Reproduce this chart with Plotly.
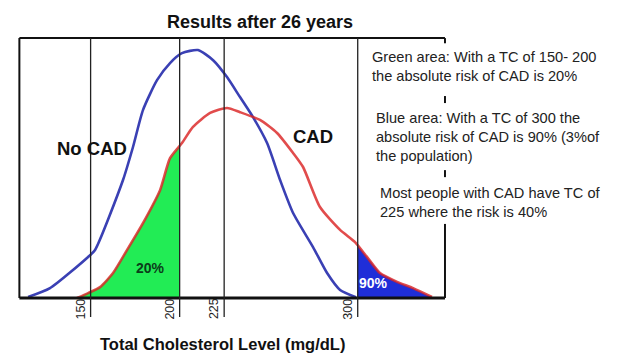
import numpy as np
import plotly.graph_objects as go

# ---- data ----
no_cad_x = [114.9, 127.2, 148.6, 152.5, 168.2, 173.8, 179.4, 187.3, 194.6, 201.3,
            210.3, 218.8, 226.6, 233.9, 241.2, 249.1, 256.4, 263.7, 274.9, 282.8,
            290.1, 299.0]
no_cad_y = [0.4, 3.8, 15.8, 18.5, 45.4, 58.1, 72.3, 83.8, 90.4, 94.2,
            95.4, 91.5, 85.0, 77.3, 69.6, 59.6, 45.4, 32.7, 19.6, 9.6,
            3.1, 0.3]
cad_x = [142.4, 148.6, 155.3, 162.6, 170.5, 179.4, 189.0, 194.6, 201.3, 207.5,
         217.1, 226.6, 233.9, 245.1, 254.7, 263.7, 269.3, 278.8, 290.1, 298.5,
         305.2, 312.5, 322.1, 331.1, 341.7]
cad_y = [0.0, 1.9, 4.2, 9.6, 18.5, 28.8, 41.5, 53.8, 59.6, 65.8,
         71.2, 73.1, 71.5, 68.5, 63.5, 55.8, 50.4, 35.0, 26.2, 21.5,
         15.8, 9.6, 6.2, 3.8, 0.4]
tick_vals = [150, 200, 225, 300]
tick_text = ["150", "200", "225", "300"]
green_range = (142.4, 200)
blue_range = (300, 341.7)
notes = [
    "Green area: With a TC of 150- 200<br>the absolute risk of CAD is 20%",
    "Blue area: With a TC of 300 the<br>absolute risk of CAD is 90% (3%of<br>the population)",
    "Most people with CAD have TC of<br>225 where the risk is 40%",
]

X0, X1 = 110, 349
XR = [108.1, 350.7]
YR = [-8.46, 100.8]
FONT = "Arial, Liberation Sans"

cx = np.array(cad_x)
cy = np.array(cad_y)


def segment(a, b):
    m = (cx > a) & (cx < b)
    xs = np.concatenate([[a], cx[m], [b]])
    ys = np.concatenate([[np.interp(a, cx, cy)], cy[m], [np.interp(b, cx, cy)]])
    return xs, ys


gx, gy = segment(*green_range)
bx, by = segment(*blue_range)

fig = go.Figure()
fig.add_trace(go.Scatter(x=gx, y=gy, mode="lines", line=dict(width=0),
                         fill="tozeroy", fillcolor="#22ec55", hoverinfo="skip"))
fig.add_trace(go.Scatter(x=bx, y=by, mode="lines", line=dict(width=0),
                         fill="tozeroy", fillcolor="#1f2ed8", hoverinfo="skip"))
fig.add_trace(go.Scatter(x=no_cad_x, y=no_cad_y, mode="lines",
                         line=dict(color="#3a40b4", width=2.6, shape="spline", smoothing=0.6)))
fig.add_trace(go.Scatter(x=cad_x, y=cad_y, mode="lines",
                         line=dict(color="rgba(218,36,36,0.82)", width=2.6, shape="spline", smoothing=0.6)))

shapes = []
# frame
shapes.append(dict(type="line", x0=X0, x1=X0, y0=0, y1=100, line=dict(color="#111", width=2)))
shapes.append(dict(type="line", x0=X0, x1=X1, y0=100, y1=100, line=dict(color="#111", width=2)))
shapes.append(dict(type="line", x0=X0, x1=X1, y0=0, y1=0, line=dict(color="#111", width=3)))
for a, b in [(98, 100), (75, 77.7), (46.5, 49.2), (0, 28.5)]:
    shapes.append(dict(type="line", x0=X1, x1=X1, y0=a, y1=b, line=dict(color="#111", width=2)))
for v in tick_vals:
    shapes.append(dict(type="line", x0=v, x1=v, y0=-7.3, y1=100,
                       line=dict(color="#222", width=1.3), layer="above"))

ann = []
for v, t in zip(tick_vals, tick_text):
    ann.append(dict(x=v, y=-4.2, xref="x", yref="y", text=t, textangle=-90, showarrow=False,
                    xshift=-10, font=dict(family=FONT, size=12.5, color="#222")))
ann.append(dict(x=183.4, y=11.5, xref="x", yref="y", text="<b>20%</b>", showarrow=False,
                font=dict(family=FONT, size=14, color="#0b3d1a")))
ann.append(dict(x=308.6, y=5.8, xref="x", yref="y", text="<b>90%</b>", showarrow=False,
                font=dict(family=FONT, size=14, color="white")))
ann.append(dict(x=150.8, y=57.7, xref="x", yref="y", text="<b>No CAD</b>", showarrow=False,
                font=dict(family=FONT, size=18.5, color="#111")))
ann.append(dict(x=274.9, y=62.3, xref="x", yref="y", text="<b>CAD</b>", showarrow=False,
                font=dict(family=FONT, size=18.5, color="#111")))
ann.append(dict(x=0.565, y=1.049, xref="paper", yref="paper", text="<b>Results after 26 years</b>",
                showarrow=False, yanchor="middle",
                font=dict(family=FONT, size=18, color="#111")))
ann.append(dict(x=0.477, y=-0.085, xref="paper", yref="paper",
                text="<b>Total Cholesterol Level (mg/dL)</b>", showarrow=False, yanchor="middle",
                font=dict(family=FONT, size=16.5, color="#111")))
for txt, xp, yp in zip(notes, [0.819, 0.829, 0.838], [0.891, 0.646, 0.415]):
    ann.append(dict(x=xp, y=yp, xref="paper", yref="paper", text=txt, showarrow=False,
                    xanchor="left", yanchor="middle", align="left",
                    font=dict(family=FONT, size=14.6, color="#222")))

fig.update_layout(
    width=620, height=364,
    margin=dict(l=16, r=172, t=36, b=44),
    paper_bgcolor="white", plot_bgcolor="white",
    showlegend=False,
    xaxis=dict(range=XR, visible=False, fixedrange=True),
    yaxis=dict(range=YR, visible=False, fixedrange=True),
    shapes=shapes, annotations=ann,
)
fig.write_html("out.html", config={"displayModeBar": False},
               post_script="document.body.style.margin='0';document.body.style.padding='0';")
